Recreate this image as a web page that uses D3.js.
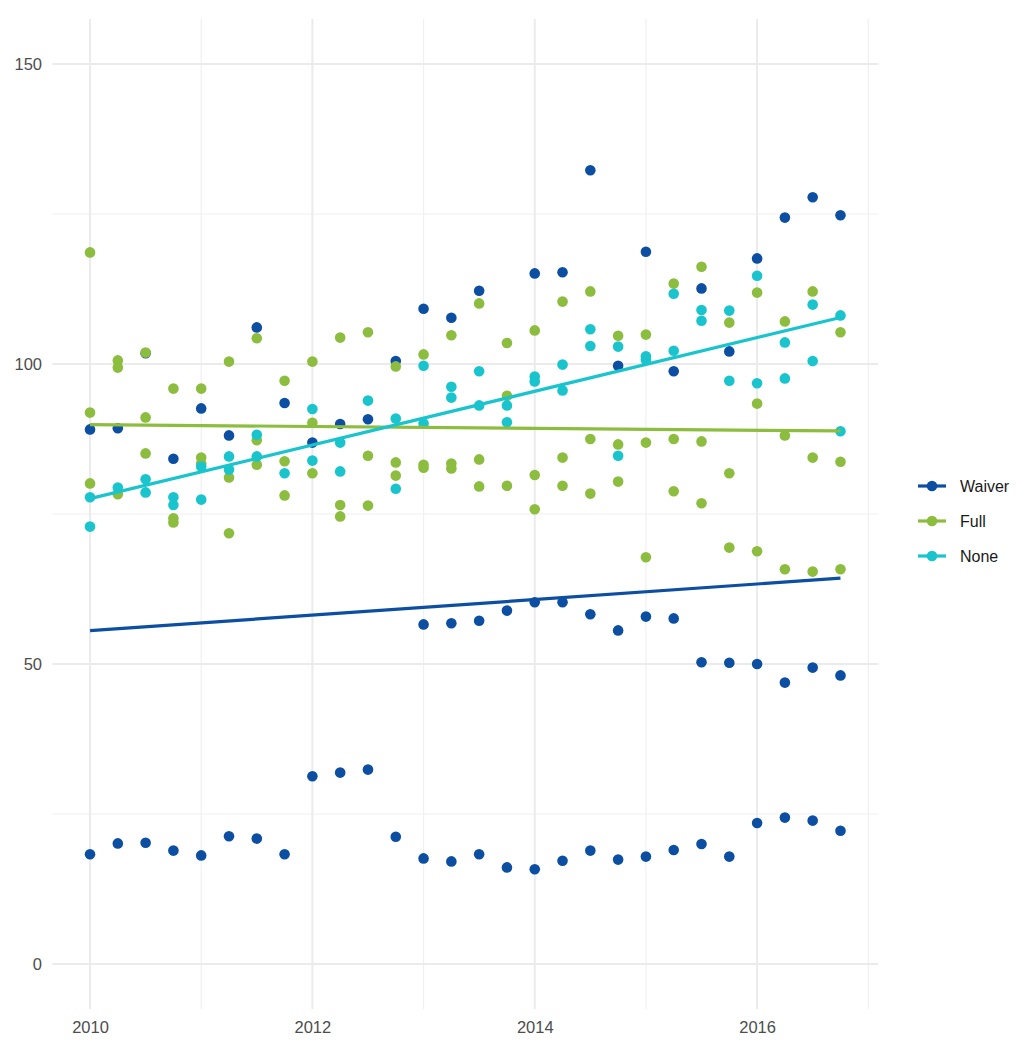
<!DOCTYPE html>
<html><head><meta charset="utf-8">
<script src="https://cdn.jsdelivr.net/npm/d3@7"></script>
<style>body{margin:0;background:#fff;}svg text{font-family:"Liberation Sans",Arial,sans-serif;}</style>
</head><body>
<svg id="c" width="1030" height="1050"></svg>
<script>
const quarters = [2010,2010.25,2010.5,2010.75,2011,2011.25,2011.5,2011.75,2012,2012.25,2012.5,2012.75,2013,2013.25,2013.5,2013.75,2014,2014.25,2014.5,2014.75,2015,2015.25,2015.5,2015.75,2016,2016.25,2016.5,2016.75];
const groups = ["Waiver","Full","None"];
const groupColors = ["#0C4FA2","#8CBD3E","#19C4CD"];
// values per quarter (several units per group)
const waiverValues = [
 [89.1,18.3],[89.3,20.1],[101.8,20.2],[84.2,18.9],[92.6,18.1],[88.1,21.3],[106.1,20.9],[93.5,18.3],
 [86.9,31.3],[90.0,31.9],[90.8,32.4],[100.5,21.2],[109.2,56.6,17.6],[107.7,56.8,17.1],[112.2,57.2,18.3],[58.9,16.1],
 [115.1,60.3,15.8],[115.3,60.3,17.2],[132.3,58.3,18.9],[99.7,55.6,17.4],[118.7,57.9,17.9],[98.8,57.6,19.0],[112.6,50.3,20.0],[102.1,50.2,17.9],
 [117.6,50.0,23.5],[124.4,46.9,24.4],[127.8,49.4,23.9],[124.8,48.1,22.2]
];
const fullValues = [
 [118.6,91.9,80.1],[100.6,99.4,78.3],[101.9,91.1,85.1],[95.9,74.3,73.6],[95.9,84.4,83.4],[100.4,81.1,71.8],[104.3,87.3,83.2],[97.2,83.8,78.1],
 [100.4,90.2,81.8],[104.4,76.5,74.6],[105.3,84.7,76.4],[99.6,83.6,81.4],[101.6,83.2,82.7],[104.8,83.4,82.6],[110.1,84.1,79.6],[103.5,94.7,79.7],
 [105.6,81.5,75.8],[110.4,84.4,79.7],[112.1,87.5,78.4],[104.7,86.6,80.4],[104.9,86.9,67.8],[113.4,87.5,78.8],[116.2,87.1,76.8],[106.9,81.8,69.4],
 [111.9,93.4,68.8],[107.1,88.1,65.8],[112.1,84.4,65.4],[105.3,83.7,65.8]
];
const noneValues = [
 [77.8,72.9],[79.4],[80.8,78.6],[77.8,76.5],[82.9,77.4],[84.6,82.4],[88.2,84.6],[81.8],
 [92.5,83.9],[86.9,82.1],[93.9],[90.9,79.2],[99.7,90.1],[96.2,94.4],[98.8,93.1],[93.1,90.3],
 [97.9,97.1],[99.9,95.6],[105.8,103.0],[102.9,84.7],[101.3,100.7],[111.7,102.2],[109.0,107.2],[108.9,97.2],
 [114.7,96.8],[103.6,97.6],[109.9,100.5],[108.1,88.8]
];
const xTicks = [2010,2012,2014,2016];
const xMinor = [2011,2013,2015,2017];
const yTicks = [0,50,100,150];
const yMinor = [25,75,125];

const svg = d3.select("#c");
const x = d3.scaleLinear().domain([2010-0.3375, 2016.75+0.3375]).range([52.5, 878]);
const y = d3.scaleLinear().domain([-7.5, 157.5]).range([1009, 19]);

const grid = svg.append("g");
grid.selectAll(".ym").data(yMinor).join("line").attr("x1",x.range()[0]).attr("x2",x.range()[1])
  .attr("y1",d=>y(d)).attr("y2",d=>y(d)).attr("stroke","#f0f0f0").attr("stroke-width",1.2);
grid.selectAll(".xm").data(xMinor).join("line").attr("y1",y.range()[0]).attr("y2",y.range()[1])
  .attr("x1",d=>x(d)).attr("x2",d=>x(d)).attr("stroke","#f0f0f0").attr("stroke-width",1.2);
grid.selectAll(".yM").data(yTicks).join("line").attr("x1",x.range()[0]).attr("x2",x.range()[1])
  .attr("y1",d=>y(d)).attr("y2",d=>y(d)).attr("stroke","#ebebeb").attr("stroke-width",2);
grid.selectAll(".xM").data(xTicks).join("line").attr("y1",y.range()[0]).attr("y2",y.range()[1])
  .attr("x1",d=>x(d)).attr("x2",d=>x(d)).attr("stroke","#ebebeb").attr("stroke-width",2);

// axes labels
const yAxis = d3.axisLeft(y).tickValues(yTicks).tickSize(0).tickPadding(0);
const gy = svg.append("g").attr("transform","translate(42,0)").call(yAxis);
gy.select(".domain").remove();
gy.selectAll("text").attr("font-size",16.5).attr("fill","#4d4d4d").attr("dy","0.35em");
const xAxis = d3.axisBottom(x).tickValues(xTicks).tickFormat(d3.format("d")).tickSize(0).tickPadding(0);
const gx = svg.append("g").attr("transform","translate(0,1021)").call(xAxis);
gx.select(".domain").remove();
gx.selectAll("text").attr("font-size",16.5).attr("fill","#4d4d4d").attr("dy","0.71em");

const series = [waiverValues, fullValues, noneValues];
const pts = [];
series.forEach((vals,gi)=>vals.forEach((arr,qi)=>arr.forEach(v=>pts.push({g:gi,x:quarters[qi],y:v}))));

// points
svg.append("g").selectAll("circle").data(pts).join("circle")
  .attr("cx",d=>x(d.x)).attr("cy",d=>y(d.y)).attr("r",5.3).attr("fill",d=>groupColors[d.g]);

// linear fits
groups.forEach((g,gi)=>{
  const p = pts.filter(d=>d.g===gi);
  const mx = d3.mean(p,d=>d.x), my = d3.mean(p,d=>d.y);
  const b = d3.sum(p,d=>(d.x-mx)*(d.y-my))/d3.sum(p,d=>(d.x-mx)**2);
  const a = my - b*mx;
  const ends = [quarters[0], quarters[quarters.length-1]];
  svg.append("line").attr("x1",x(ends[0])).attr("x2",x(ends[1]))
    .attr("y1",y(a+b*ends[0])).attr("y2",y(a+b*ends[1]))
    .attr("stroke",groupColors[gi]).attr("stroke-width",3.2);
});

// legend
const lg = svg.append("g").attr("transform","translate(918,486)");
groups.forEach((g,i)=>{
  const r = lg.append("g").attr("transform",`translate(0,${i*35})`);
  r.append("line").attr("x1",0).attr("x2",28).attr("stroke",groupColors[i]).attr("stroke-width",3.2);
  r.append("circle").attr("cx",14).attr("r",5.3).attr("fill",groupColors[i]);
  r.append("text").attr("x",42).attr("dy","0.35em").attr("font-size",16).attr("fill","#1a1a1a").text(g);
});
</script>
</body></html>
